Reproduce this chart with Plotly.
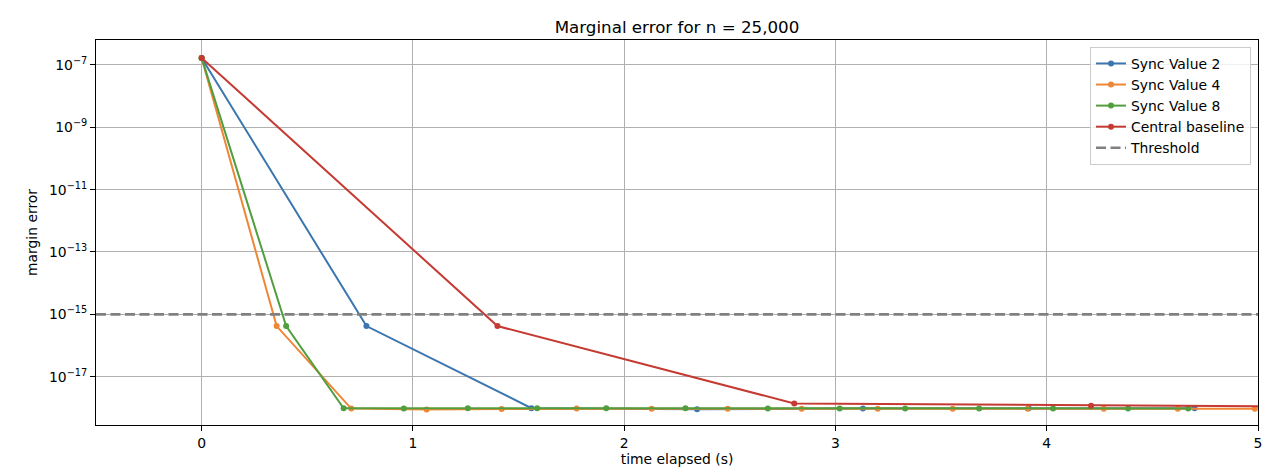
import plotly.graph_objects as go

# ---- data ----
sync2_t = [0.0, 0.78, 1.561, 2.345, 3.13, 3.915, 4.70]
sync2_err = [1.68e-7, 4.2e-16, 9.8e-19, 9.1e-19, 9.5e-19, 9.7e-19, 9.7e-19]

sync4_t = [0.0, 0.355, 0.708, 1.065, 1.42, 1.775, 2.13, 2.49, 2.84, 3.20,
           3.555, 3.91, 4.27, 4.62, 4.985]
sync4_err = [1.68e-7, 4.2e-16, 9.5e-19, 8.9e-19, 9.2e-19, 9.5e-19, 9.4e-19,
             9.4e-19, 9.3e-19, 9.3e-19, 9.4e-19, 9.3e-19, 9.3e-19, 9.4e-19, 9.3e-19]

sync8_t = [0.0, 0.40, 0.672, 0.957, 1.26, 1.588, 1.915, 2.29, 2.68, 3.02,
           3.33, 3.68, 4.03, 4.385, 4.67]
sync8_err = [1.68e-7, 4.2e-16, 9.7e-19, 9.5e-19, 9.7e-19, 9.7e-19, 9.7e-19,
             9.7e-19, 9.6e-19, 9.6e-19, 9.6e-19, 9.6e-19, 9.6e-19, 9.6e-19, 9.6e-19]

central_t = [0.0, 1.40, 2.805, 4.21, 5.61]
central_err = [1.68e-7, 4.2e-16, 1.38e-18, 1.17e-18, 1.07e-18]

threshold = 1e-15
x_range = [-0.5, 5.0]

x_ticks = [0, 1, 2, 3, 4, 5]
y_ticks = [1e-17, 1e-15, 1e-13, 1e-11, 1e-9, 1e-7]
y_ticklabels = ["10<sup>\u221217</sup>", "10<sup>\u221215</sup>", "10<sup>\u221213</sup>",
                "10<sup>\u221211</sup>", "10<sup>\u22129</sup>", "10<sup>\u22127</sup>"]

series = [
    ("Sync Value 2", sync2_t, sync2_err, "#3b76af"),
    ("Sync Value 4", sync4_t, sync4_err, "#ef8636"),
    ("Sync Value 8", sync8_t, sync8_err, "#519e3e"),
    ("Central baseline", central_t, central_err, "#c53a32"),
]

FONT = "DejaVu Sans"

fig = go.Figure()
for name, t, e, c in series:
    fig.add_trace(go.Scatter(
        x=t, y=e, name=name, mode="lines+markers",
        line=dict(color=c, width=2),
        marker=dict(color=c, size=6),
        cliponaxis=True,
    ))

fig.add_trace(go.Scatter(
    x=x_range, y=[threshold, threshold], name="Threshold", mode="lines",
    line=dict(color="#808080", width=2.7, dash="10px,4.5px"),
))

# page body has an 8px margin, so the figure is offset by 8px right/down
fig.update_layout(
    width=1284, height=474,
    margin=dict(l=88, r=34, t=32, b=57, autoexpand=False),
    paper_bgcolor="white", plot_bgcolor="white",
    font=dict(family=FONT, size=14, color="black"),
    title=dict(text="Marginal error for n = 25,000", x=669 / 1284,
               xanchor="center", y=1 - 19 / 474, yanchor="middle", yref="container",
               font=dict(family=FONT, size=16.7, color="black")),
    showlegend=True,
    legend=dict(x=0.994, xanchor="right", y=0.982, yanchor="top",
                bgcolor="rgba(255,255,255,0.8)", bordercolor="#cccccc", borderwidth=1,
                font=dict(family=FONT, size=13.9), itemwidth=30, tracegroupgap=0),
)

fig.update_xaxes(
    range=x_range, tickvals=x_ticks, ticktext=[str(v) for v in x_ticks],
    automargin=False,
    showgrid=True, gridcolor="#b0b0b0", gridwidth=1,
    zeroline=False, showline=True, linecolor="black", linewidth=1, mirror=True,
    ticks="outside", ticklen=5, tickcolor="black",
    tickfont=dict(family=FONT, size=13.9),
    title=dict(text="time elapsed (s)", font=dict(family=FONT, size=13.9), standoff=4),
)
fig.update_yaxes(
    type="log", range=[-18.55, -6.2], tickvals=y_ticks, ticktext=y_ticklabels,
    automargin=False,
    showgrid=True, gridcolor="#b0b0b0", gridwidth=1,
    zeroline=False, showline=True, linecolor="black", linewidth=1, mirror=True,
    ticks="outside", ticklen=5, tickcolor="black",
    tickfont=dict(family=FONT, size=13.9),
    title=dict(text="margin error", font=dict(family=FONT, size=13.9), standoff=8),
)

fig.write_html("out.html")
